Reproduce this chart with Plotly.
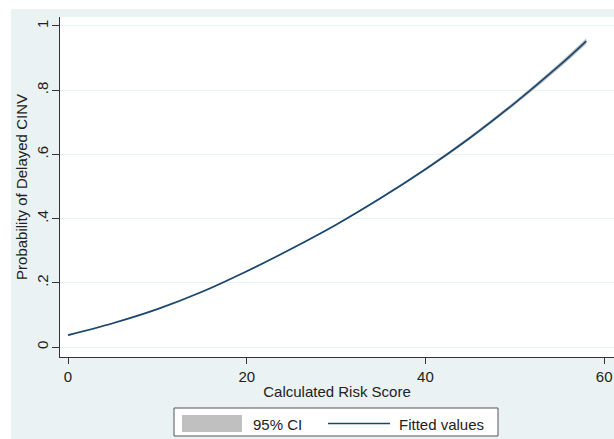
import plotly.graph_objects as go

# ---- data ----
risk_score = [0, 5, 10, 15, 20, 25, 30, 35, 40, 45, 50, 55, 58]
fitted = [0.037, 0.074, 0.118, 0.172, 0.236, 0.306, 0.381, 0.464, 0.554, 0.652, 0.760, 0.877, 0.953]
ci_lower = [0.034, 0.072, 0.116, 0.170, 0.234, 0.304, 0.379, 0.461, 0.550, 0.647, 0.754, 0.869, 0.944]
ci_upper = [0.040, 0.076, 0.120, 0.174, 0.238, 0.308, 0.383, 0.467, 0.558, 0.657, 0.766, 0.885, 0.962]
y_tickvals = [0, 0.2, 0.4, 0.6, 0.8, 1.0]
y_ticktext = ["0", ".2", ".4", ".6", ".8", "1"]
x_tickvals = [0, 20, 40, 60]
x_ticktext = ["0", "20", "40", "60"]
legend_labels = ["95% CI", "Fitted values"]

W, H = 614, 439
L, R, T, B = 60, 0, 17, 439 - 357
pw, ph = W - L - R, H - T - B


def px(x):  # screen x pixel -> paper fraction
    return (x - L) / pw


def py(y):  # screen y pixel -> paper fraction
    return (H - B - y) / ph


BG = "#eaf2f3"
NAVY = "#1a476f"
CIGRAY = "#c0c0c0"
FONT = "Liberation Sans, Arial, sans-serif"

fig = go.Figure()
fig.add_trace(go.Scatter(x=risk_score, y=ci_lower, mode="lines", line=dict(width=0, color=CIGRAY),
                         line_shape="spline", showlegend=False, hoverinfo="skip"))
fig.add_trace(go.Scatter(x=risk_score, y=ci_upper, mode="lines", line=dict(width=0, color=CIGRAY),
                         line_shape="spline", fill="tonexty", fillcolor=CIGRAY,
                         showlegend=False, name=legend_labels[0]))
fig.add_trace(go.Scatter(x=risk_score, y=fitted, mode="lines", line=dict(width=1.7, color=NAVY),
                         line_shape="spline", showlegend=False, name=legend_labels[1]))

shapes = [
    # thin white margins outside the graph region
    dict(type="rect", xref="paper", yref="paper", x0=px(-5), x1=px(11), y0=py(460), y1=py(-5),
         fillcolor="white", line=dict(width=0), layer="above"),
    dict(type="rect", xref="paper", yref="paper", x0=px(-5), x1=px(620), y0=py(9), y1=py(-5),
         fillcolor="white", line=dict(width=0), layer="above"),
    # legend box
    dict(type="rect", xref="paper", yref="paper", x0=px(174), x1=px(498), y0=py(436), y1=py(408),
         fillcolor="white", line=dict(color="#555555", width=1)),
    # CI swatch
    dict(type="rect", xref="paper", yref="paper", x0=px(182), x1=px(242), y0=py(432), y1=py(415),
         fillcolor=CIGRAY, line=dict(width=0)),
    # fitted line swatch
    dict(type="line", xref="paper", yref="paper", x0=px(328), x1=px(390), y0=py(423.5), y1=py(423.5),
         line=dict(color=NAVY, width=1.7)),
]
annotations = [
    dict(text=legend_labels[0], xref="paper", yref="paper", x=px(251), y=py(424), xanchor="left",
         yanchor="middle", showarrow=False, font=dict(family=FONT, size=15, color="#222222")),
    dict(text=legend_labels[1], xref="paper", yref="paper", x=px(397), y=py(424), xanchor="left",
         yanchor="middle", showarrow=False, font=dict(family=FONT, size=15, color="#222222")),
]

fig.update_layout(
    width=W, height=H,
    margin=dict(l=L, r=R, t=T, b=B, autoexpand=False),
    paper_bgcolor=BG, plot_bgcolor="white",
    font=dict(family=FONT, size=15, color="#222222"),
    shapes=shapes, annotations=annotations,
    showlegend=False,
)
fig.update_xaxes(
    range=[-0.9, 61.1], tickvals=x_tickvals, ticktext=x_ticktext,
    showgrid=False, zeroline=False, showline=True, linecolor="#333333", linewidth=1.2,
    ticks="outside", ticklen=6, tickcolor="#333333", tickwidth=1.2,
    tickfont=dict(size=15),
    title=dict(text="Calculated Risk Score", font=dict(size=15), standoff=2),
)
fig.update_yaxes(
    range=[-0.031, 1.028], tickvals=y_tickvals, ticktext=y_ticktext, tickangle=-90,
    showgrid=True, gridcolor=BG, gridwidth=1.2, zeroline=False,
    showline=True, linecolor="#333333", linewidth=1.2,
    ticks="outside", ticklen=7, tickcolor="#333333", tickwidth=1.2,
    tickfont=dict(size=15), ticklabelstandoff=-2,
    title=dict(text="Probability of Delayed CINV", font=dict(size=15), standoff=2),
)

fig.write_html("out.html", config={"displayModeBar": False},
               post_script="document.body.style.margin='0';")
